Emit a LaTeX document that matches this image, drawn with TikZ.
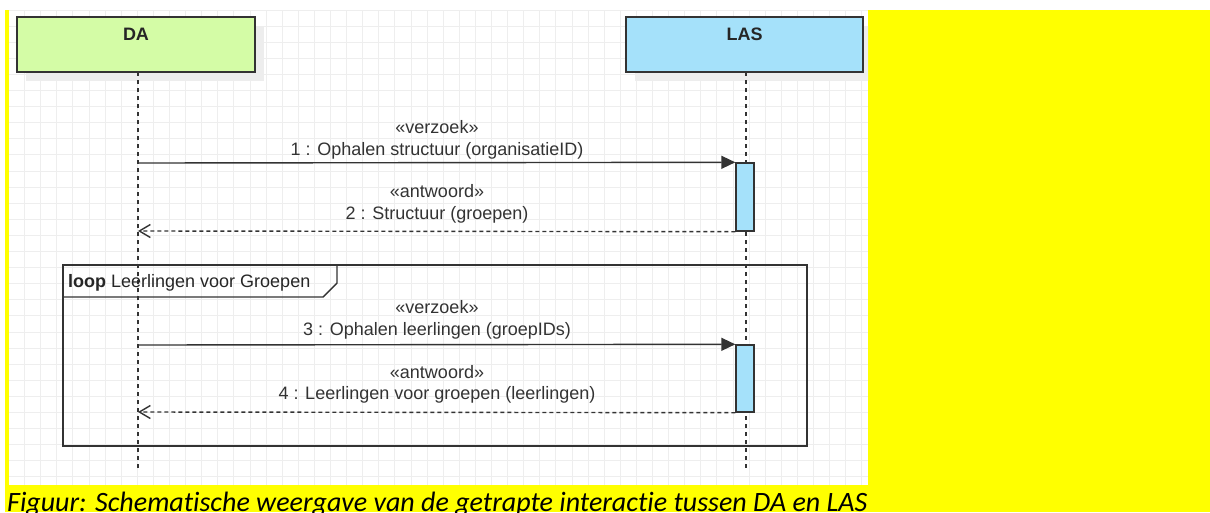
\documentclass[tikz,border=0pt]{standalone}
\usepackage{fontspec}
\setmainfont{Liberation Sans}
\newfontfamily\capfont[Ligatures=NoCommon]{Carlito}
\usetikzlibrary{arrows.meta}
\definecolor{yel}{RGB}{255,255,0}
\definecolor{dagreen}{RGB}{212,252,166}
\definecolor{lasblue}{RGB}{165,225,250}
\definecolor{gridc}{RGB}{238,238,238}
\definecolor{linec}{RGB}{51,51,51}
\begin{document}
\begin{tikzpicture}[x=1pt,y=-1pt,
  lifebox/.style={draw=linec, line width=1.4pt, inner sep=0pt, minimum height=55pt},
  shadowbox/.style={fill=black!7, draw=none},
  headlabel/.style={font=\bfseries\fontsize{18}{21}\selectfont, text=black!85},
  msglabel/.style={anchor=base, font=\fontsize{18}{21}\selectfont, text=black!80, inner sep=0pt},
  lifeline/.style={draw=linec, line width=1.5pt, dash pattern=on 4pt off 4pt},
  actbox/.style={draw=linec, line width=1.4pt, fill=lasblue, inner sep=0pt, minimum width=18pt},
  reqmsg/.style={draw=linec, line width=1.4pt, -{Triangle[length=14pt,width=13pt]}},
  retmsg/.style={draw=linec, line width=1.4pt, dash pattern=on 4pt off 3pt, -{Straight Barb[length=11pt,width=13pt,line width=1.4pt]}},
  framestyle/.style={draw=linec, line width=1.4pt},
  gridline/.style={draw=gridc, line width=0.8pt}
]
\useasboundingbox (0,0) rectangle (1210,512);
\clip (0,0) rectangle (1210,512);
% backgrounds
\fill[white] (0,0) rectangle (1210,512);
\fill[yel] (5,10) rectangle (1210,512);
\fill[white] (9,10) rectangle (868,485);
\begin{scope}
  \clip (9,10) rectangle (868,485);
  \foreach \i in {0,...,54} {\draw[gridline] (8.4+16.1*\i,10) -- (8.4+16.1*\i,485);}
  \foreach \j in {-1,...,29} {\draw[gridline] (9,26+16.1*\j) -- (868,26+16.1*\j);}
  % shadows
  \fill[shadowbox] (26,26) rectangle (264,81);
  \fill[shadowbox] (635,26) rectangle (872,81);
\end{scope}
% lifeline heads
\node[lifebox, fill=dagreen, minimum width=238pt] (da) at (136,44.5) {};
\node[headlabel] (daLabel) at (136,34) {DA};
\node[lifebox, fill=lasblue, minimum width=237pt] (las) at (744.5,44.5) {};
\node[headlabel] (lasLabel) at (744.5,34) {LAS};
% lifelines
\coordinate (daTop) at (138,72);
\coordinate (daBot) at (138,470);
\coordinate (lasTop) at (746,72);
\coordinate (lasBot) at (746,470);
\draw[lifeline] (daTop) -- (daBot);
\draw[lifeline] (lasTop) -- (lasBot);
% loop frame
\draw[framestyle] (63,265) rectangle (807,446);
\draw[framestyle] (63,297) -- (323,297) -- (337,283) -- (337,265);
\node[anchor=base west, inner sep=0pt, font=\fontsize{18}{21}\selectfont, text=black!85] (loopLabel) at (68,287) {\textbf{loop} Leerlingen voor Groepen};
% activations
\node[actbox, minimum height=68pt] (act1) at (745,197) {};
\node[actbox, minimum height=67pt] (act2) at (745,378.5) {};
% message endpoints on DA lifeline
\coordinate (m1) at (138,163);
\coordinate (m2) at (138,231);
\coordinate (m3) at (138,345);
\coordinate (m4) at (138,412);
% messages
\draw[reqmsg] (m1) -- (act1.north west);
\draw[retmsg] (act1.south west) -- (m2);
\draw[reqmsg] (m3) -- (act2.north west);
\draw[retmsg] (act2.south west) -- (m4);
% labels
\node[msglabel] (l1a) at (437,133) {«verzoek»};
\node[msglabel] (l1b) at (437,155) {1 : Ophalen structuur (organisatieID)};
\node[msglabel] (l2a) at (437,197) {«antwoord»};
\node[msglabel] (l2b) at (437,219) {2 : Structuur (groepen)};
\node[msglabel] (l3a) at (437,313) {«verzoek»};
\node[msglabel] (l3b) at (437,335) {3 : Ophalen leerlingen (groepIDs)};
\node[msglabel] (l4a) at (437,378) {«antwoord»};
\node[msglabel] (l4b) at (437,399) {4 : Leerlingen voor groepen (leerlingen)};
% caption
\node[anchor=base west, inner sep=0pt, font=\capfont\itshape\fontsize{28}{32}\selectfont, text=black] (caption) at (7,511) {Figuur: Schematische weergave van de getrapte interactie tussen DA en LAS};
\end{tikzpicture}
\end{document}
